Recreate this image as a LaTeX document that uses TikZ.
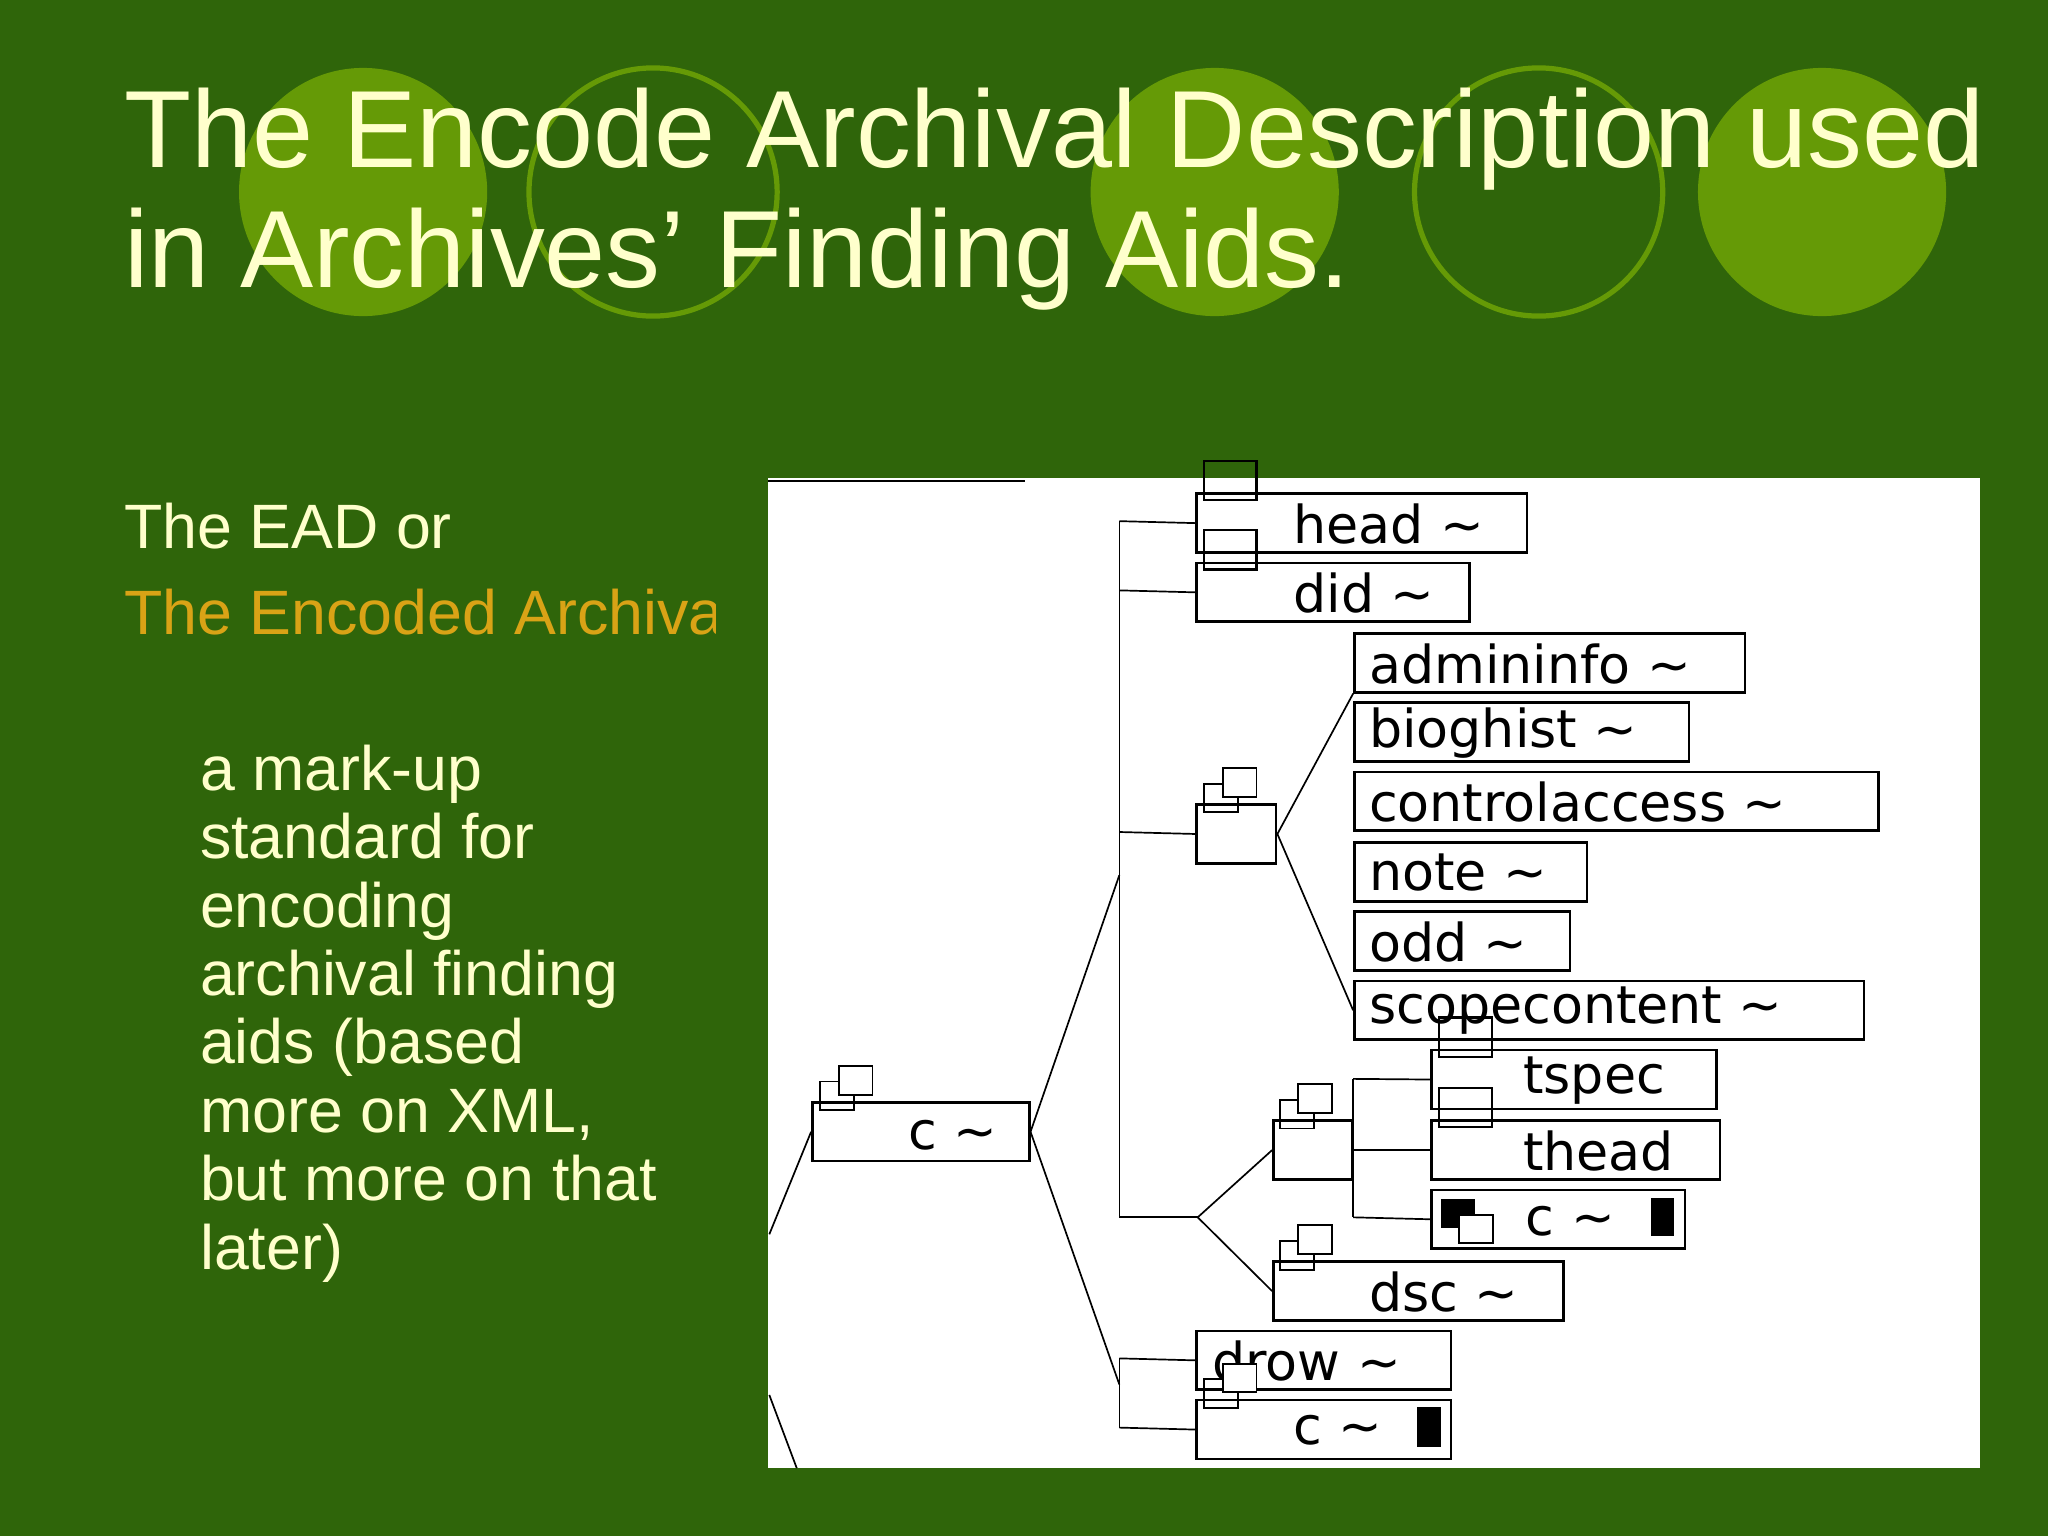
\documentclass[tikz,border=0pt]{standalone}
\usepackage{fontspec}
\setmainfont{Liberation Sans}
\newfontfamily\treefont{DejaVu Sans}
\definecolor{bg}{HTML}{2F650A}
\definecolor{circ}{HTML}{659A06}
\definecolor{cream}{HTML}{FFFFCC}
\definecolor{gold}{HTML}{D9A316}
\tikzset{
 tb/.style={draw=black,line width=2pt,fill=white},
 tt/.style={anchor=west,inner sep=0pt,font=\treefont\fontsize{40}{40}\selectfont,text=black},
 ln/.style={draw=black,line width=1.3pt},
 body/.style={anchor=base west,inner sep=0pt,text=cream,font=\fontsize{48}{48}\selectfont}
}
\newcommand{\sq}[2]{\draw[black,line width=1.6pt] (#1,#2) rectangle ++(40,-30);}
\newcommand{\grp}[2]{\draw[black,line width=1.5pt] (#1,#2) rectangle ++(26,-22); \draw[black,line width=1.5pt,fill=white] ({#1+14},{#2-12}) rectangle ++(26,-22);}
\begin{document}
\begin{tikzpicture}[x=1pt,y=-1pt]
\useasboundingbox (0,0) rectangle (1568,1176);
\fill[bg] (0,0) rectangle (1568,1176);
\fill[circ] (278,147) circle (95);
\draw[circ,line width=4pt] (500,147) circle (95);
\fill[circ] (930,147) circle (95);
\draw[circ,line width=4pt] (1178,147) circle (95);
\fill[circ] (1395,147) circle (95);
\node[anchor=base west,inner sep=0pt,text=cream,font=\fontsize{84}{84}\selectfont] (t1) at (95,128) {The Encode Archival Description used};
\node[anchor=base west,inner sep=0pt,text=cream,font=\fontsize{84}{84}\selectfont] (t2) at (95,220) {in Archives’ Finding Aids.};
\node[body] (l1) at (95,420) {The EAD or};
\begin{scope}
\clip (0,400) rectangle (548,500);
\node[body,text=gold] (l2) at (95,486) {The Encoded Archival Description};
\end{scope}
\foreach \t [count=\i from 0] in {a mark-up,standard for,encoding,archival finding,aids (based,{more on XML,},but more on that,later)}
 \node[body] (b\i) at (153,{605+52.4*\i}) {\t};
% panel
\fill[white] (588,366) rectangle (1516,1124);
\draw[black,line width=1.5pt] (588,368) -- (785,368);
% boxes
\node[tb,minimum width=253,minimum height=45,anchor=north west] (head) at (915,377) {};
\node[tb,minimum width=209,minimum height=45,anchor=north west] (did) at (915,430) {};
\node[tb,minimum width=61,minimum height=45,anchor=north west] (g1) at (915,615) {};
\node[tb,minimum width=299,minimum height=45,anchor=north west] (adm) at (1036,484) {};
\node[tb,minimum width=256,minimum height=45,anchor=north west] (bio) at (1036,537) {};
\node[tb,minimum width=401,minimum height=45,anchor=north west] (ctl) at (1036,590) {};
\node[tb,minimum width=178,minimum height=45,anchor=north west] (note) at (1036,644) {};
\node[tb,minimum width=165,minimum height=45,anchor=north west] (odd) at (1036,697) {};
\node[tb,minimum width=390,minimum height=45,anchor=north west] (scp) at (1036,750) {};
\node[tb,minimum width=166,minimum height=45,anchor=north west] (cm) at (621,843) {};
\node[tb,minimum width=60,minimum height=45,anchor=north west] (g2) at (974,857) {};
\node[tb,minimum width=218,minimum height=45,anchor=north west] (tsp) at (1095,803) {};
\node[tb,minimum width=221,minimum height=45,anchor=north west] (thd) at (1095,857) {};
\node[tb,minimum width=194,minimum height=45,anchor=north west] (cc) at (1095,910) {};
\node[tb,minimum width=222,minimum height=45,anchor=north west] (dsc) at (974,965) {};
\node[tb,minimum width=195,minimum height=45,anchor=north west] (drow) at (915,1018) {};
\node[tb,minimum width=195,minimum height=45,anchor=north west] (cl) at (915,1071) {};
% icons and labels
\sq{922}{383} \node[tt] at (990,401) {head \char`~};
\sq{922}{436} \node[tt] at (990,454) {did \char`~};
\grp{922}{622}
\node[tt] at (1048,508) {admininfo \char`~};
\node[tt] at (1048,561) {bioghist \char`~};
\node[tt] at (1048,614) {controlaccess \char`~};
\node[tt] at (1048,668) {note \char`~};
\node[tt] at (1048,721) {odd \char`~};
\node[tt] at (1048,774) {scopecontent \char`~};
\grp{628}{850} \node[tt] at (695,869) {c \char`~};
\grp{980}{864}
\sq{1102}{809} \node[tt] at (1166,827) {tspec};
\sq{1102}{863} \node[tt] at (1166,881) {thead};
\fill[black] (1103,918) rectangle (1129,940);
\draw[black,line width=1.5pt,fill=white] (1117,930) rectangle (1143,952);
\node[tt] at (1168,935) {c \char`~};
\fill[black] (1264,917) rectangle (1282,946);
\grp{980}{972} \node[tt] at (1048,989) {dsc \char`~};
\node[tt] at (928,1042) {drow \char`~};
\grp{922}{1078} \node[tt] at (990,1095) {c \char`~};
\fill[black] (1085,1077) rectangle (1103,1108);
% connectors
\coordinate (j1) at (857,399);
\coordinate (j2) at (857,932);
\coordinate (j3) at (917,932);
\coordinate (j4) at (857,670);
\coordinate (j5) at (857,1040);
\coordinate (j6) at (857,1093);
\coordinate (k1) at (1036,826);
\coordinate (k2) at (1036,932);
\draw[ln] (j1) -- (j2) -- (j3);
\draw[ln] (j1) -- (head.west);
\draw[ln] (857,452) -- (did.west);
\draw[ln] (857,637) -- (g1.west);
\draw[ln] (cm.east) -- (j4);
\draw[ln] (cm.east) -- (857,1060);
\draw[ln] (j5) -- (j6);
\draw[ln] (j5) -- (drow.west);
\draw[ln] (j6) -- (cl.west);
\draw[ln] (g1.east) -- (adm.south west);
\draw[ln] (g1.east) -- (scp.west);
\draw[ln] (j3) -- (g2.west);
\draw[ln] (j3) -- (dsc.west);
\draw[ln] (k1) -- (k2);
\draw[ln] (k1) -- (tsp.west);
\draw[ln] (g2.east) -- (thd.west);
\draw[ln] (k2) -- (cc.west);
\draw[ln] (cm.west) -- (589,945);
\draw[ln] (589,1068) -- (610,1124);
\end{tikzpicture}
\end{document}
